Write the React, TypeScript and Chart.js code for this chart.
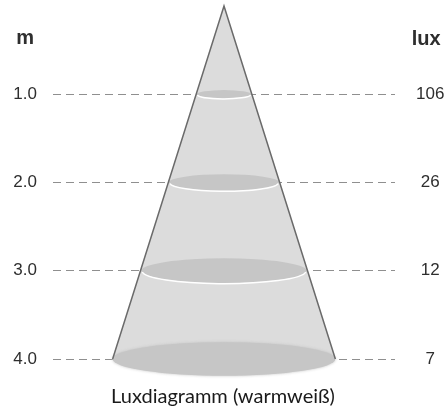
import React, { useEffect, useRef } from "react";
import { Chart, registerables } from "chart.js";

Chart.register(...registerables);

// distances from the lamp (m), left axis
const distances = [1, 2, 3, 4];
const distanceLabels = ["1.0", "2.0", "3.0", "4.0"];
// illuminance at each distance (lux), right axis
const luxLabels = ["106", "26", "12", "7"];
// light spot diameter at each distance (m)
const beamDiameters = [0.63, 1.26, 1.89, 2.54];

const leftTitle = "m";
const rightTitle = "lux";
const caption = "Luxdiagramm (warmweiß)";

export default function App() {
  const ref = useRef<HTMLCanvasElement | null>(null);

  useEffect(() => {
    document.body.style.margin = "0";
    const canvas = ref.current;
    if (!canvas) return;

    const maxD = distances[distances.length - 1];
    const baseHalf = beamDiameters[beamDiameters.length - 1] / 2;
    const conePts = [
      { x: -baseHalf, y: maxD },
      { x: 0, y: 0 },
      { x: baseHalf, y: maxD },
    ];

    const tickFont = { family: "'Liberation Sans', Arial, sans-serif", size: 17 };

    const spotsPlugin = {
      id: "spots",
      afterDatasetDraw(chart: any, args: any) {
        if (args.index !== 1) return;
        const ctx = chart.ctx;
        const xs = chart.scales.x;
        const ys = chart.scales.y;
        const cx = xs.getPixelForValue(0);
        distances.forEach((d, i) => {
          const cy = ys.getPixelForValue(d);
          const rx = xs.getPixelForValue(beamDiameters[i] / 2) - cx;
          const ry = rx * 0.15;
          ctx.save();
          ctx.beginPath();
          ctx.ellipse(cx, cy, rx, ry, 0, 0, Math.PI * 2);
          ctx.fillStyle = "#c6c6c6";
          if (i === distances.length - 1) {
            ctx.shadowColor = "rgba(190,190,190,0.9)";
            ctx.shadowBlur = 3;
          }
          ctx.fill();
          ctx.restore();
          if (i < distances.length - 1) {
            ctx.save();
            ctx.beginPath();
            ctx.ellipse(cx, cy + 0.5, rx - 1, ry, 0, 0.02 * Math.PI, 0.98 * Math.PI);
            ctx.strokeStyle = "#ffffff";
            ctx.lineWidth = 1.5;
            ctx.stroke();
            ctx.restore();
          }
        });
      },
    };

    const titlesPlugin = {
      id: "axisTitles",
      afterDraw(chart: any) {
        const ctx = chart.ctx;
        const yl = chart.scales.y;
        const yr = chart.scales.y2;
        const top = chart.chartArea.top;
        ctx.save();
        ctx.font = `${tickFont.size}px ${tickFont.family}`;
        const lw = ctx.measureText(distanceLabels[0]).width;
        const rw = ctx.measureText(luxLabels[0]).width;
        ctx.font = `bold 20px ${tickFont.family}`;
        ctx.fillStyle = "#2e2e2e";
        ctx.textAlign = "center";
        ctx.textBaseline = "alphabetic";
        ctx.fillText(leftTitle, yl.right - 16 - lw / 2, top + 38);
        ctx.fillText(rightTitle, yr.left + 21 + rw / 2 - 4, top + 39);
        ctx.restore();
      },
    };

    const fitAxis = (w: number) => (s: any) => {
      s.width = w;
      s.paddingTop = 0;
      s.paddingBottom = 0;
    };

    const chart = new Chart(canvas, {
      type: "line",
      data: {
        datasets: [
          {
            data: conePts,
            borderColor: "#6a6a6a",
            borderWidth: 1.5,
            pointRadius: 0,
            fill: false,
            tension: 0,
            order: 1,
            clip: false,
          } as any,
          {
            data: conePts,
            borderWidth: 0,
            borderColor: "rgba(0,0,0,0)",
            backgroundColor: "#dcdcdc",
            pointRadius: 0,
            fill: { value: maxD },
            tension: 0,
            order: 2,
            clip: false,
          } as any,
        ],
      },
      options: {
        responsive: false,
        animation: false,
        events: [],
        layout: { padding: { top: 6, left: 0, right: 0, bottom: 0 } },
        plugins: {
          legend: { display: false },
          tooltip: { enabled: false },
          title: {
            display: true,
            position: "bottom",
            text: caption,
            color: "#1a1a1a",
            font: { family: "Lato, 'Open Sans', sans-serif", size: 20, weight: "normal", lineHeight: 1.2 },
            padding: { top: 26, bottom: 2 },
          },
        },
        scales: {
          x: {
            type: "linear",
            min: -1.95,
            max: 1.95,
            display: false,
          },
          y: {
            type: "linear",
            position: "left",
            reverse: true,
            min: 0,
            max: maxD,
            afterBuildTicks: (s: any) => {
              s.ticks = distances.map((v) => ({ value: v }));
            },
            afterFit: fitAxis(53),
            ticks: {
              padding: 16,
              color: "#2e2e2e",
              font: tickFont,
              callback: (v: any) => {
                const i = distances.indexOf(Number(v));
                return i >= 0 ? distanceLabels[i] : "";
              },
            },
            grid: {
              drawTicks: false,
              color: "#8f8f8f",
              lineWidth: 1,
            },
            border: { display: false, dash: [8, 5] },
          },
          y2: {
            type: "linear",
            position: "right",
            reverse: true,
            min: 0,
            max: maxD,
            afterBuildTicks: (s: any) => {
              s.ticks = distances.map((v) => ({ value: v }));
            },
            afterFit: fitAxis(51),
            ticks: {
              padding: 21,
              crossAlign: "center",
              color: "#2e2e2e",
              font: tickFont,
              callback: (v: any) => {
                const i = distances.indexOf(Number(v));
                return i >= 0 ? luxLabels[i] : "";
              },
            },
            grid: { display: false, drawTicks: false },
            border: { display: false },
          },
        },
      } as any,
      plugins: [spotsPlugin, titlesPlugin],
    });

    return () => chart.destroy();
  }, []);

  return (
    <div style={{ width: 446, height: 411, background: "#ffffff" }}>
      <canvas ref={ref} width={446} height={411} style={{ display: "block" }} />
    </div>
  );
}
